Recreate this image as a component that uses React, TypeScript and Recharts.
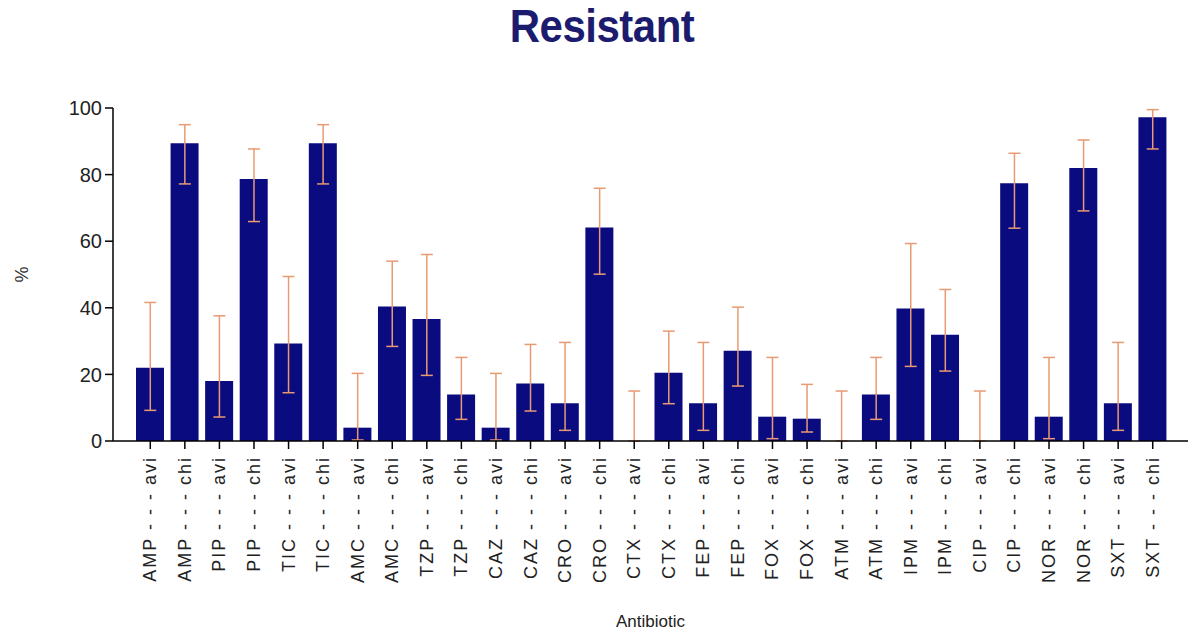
import { ComposedChart, Bar, Scatter, XAxis, YAxis, ErrorBar } from "recharts"

const drugs = [
    "AMP", "AMP", "PIP", "PIP", "TIC", "TIC", "AMC", "AMC", "TZP", "TZP",
    "CAZ", "CAZ", "CRO", "CRO", "CTX", "CTX", "FEP", "FEP", "FOX", "FOX",
    "ATM", "ATM", "IPM", "IPM", "CIP", "CIP", "NOR", "NOR", "SXT", "SXT",
]
const groups = [
    "avi", "chi", "avi", "chi", "avi", "chi", "avi", "chi", "avi", "chi",
    "avi", "chi", "avi", "chi", "avi", "chi", "avi", "chi", "avi", "chi",
    "avi", "chi", "avi", "chi", "avi", "chi", "avi", "chi", "avi", "chi",
]

// % resistant
const resistant = [
    22, 89.4, 18, 78.7, 29.3, 89.4, 4, 40.4, 36.6, 14,
    4, 17.3, 11.3, 64.1, 0, 20.5, 11.3, 27.1, 7.3, 6.7,
    0, 14, 39.8, 31.9, 0, 77.4, 7.3, 82, 11.3, 97.2,
]
// 95% CI bounds
const ciLow = [
    9.2, 77.2, 7.2, 65.9, 14.5, 77.2, 0.3, 28.4, 19.7, 6.5,
    0.3, 9, 3.2, 50.1, 0, 11.2, 3.2, 16.5, 0.7, 2.7,
    0, 6.5, 22.4, 21, 0, 63.9, 0.7, 69.1, 3.2, 87.7,
]
const ciHigh = [
    41.6, 95, 37.6, 87.7, 49.4, 95, 20.3, 54, 56, 25.1,
    20.3, 29, 29.6, 75.9, 15, 33, 29.6, 40.2, 25.1, 17,
    15, 25.1, 59.3, 45.5, 15, 86.4, 25.1, 90.4, 29.6, 99.5,
]

const yTicks = [0, 20, 40, 60, 80, 100]

const data = drugs.map((d, i) => ({
    name: `${d} - - - ${groups[i]}`,
    value: resistant[i],
    err: [resistant[i] - ciLow[i], ciHigh[i] - resistant[i]],
}))

const FONT = "'Liberation Sans', Arial, sans-serif"

function RotatedTick({ x, y, payload }: any) {
    return (
        <text
            transform={`translate(${x + 6},${y + 5}) rotate(-90)`}
            textAnchor="end"
            fontSize={18}
            letterSpacing={2}
            fill="#222"
            fontFamily={FONT}
        >
            {payload.value}
        </text>
    )
}

// scatter only carries the error bars, no marker
const NoDot = () => null

export default function App() {
    return (
        <div style={{ position: "absolute", left: 0, top: 0, width: 1192, height: 637, background: "#fff" }}>
            <div
                style={{
                    position: "absolute",
                    left: 0,
                    width: 1204,
                    top: 2,
                    textAlign: "center",
                    fontFamily: FONT,
                    fontWeight: "bold",
                    fontSize: 42,
                    letterSpacing: -0.5,
                    color: "#1c1c6e",
                    transform: "scaleY(1.12)",
                }}
            >
                Resistant
            </div>
            <ComposedChart
                width={1192}
                height={637}
                data={data}
                margin={{ top: 108, right: 4, left: 0, bottom: 0 }}
            >
                <XAxis
                    dataKey="name"
                    interval={0}
                    height={196}
                    padding={{ left: 20, right: 18 }}
                    tick={<RotatedTick />}
                    tickSize={8}
                    axisLine={{ stroke: "#000", strokeWidth: 1.5 }}
                    tickLine={{ stroke: "#000", strokeWidth: 1.5 }}
                    label={{
                        value: "Antibiotic",
                        position: "insideBottom",
                        offset: 10,
                        fontSize: 17,
                        fill: "#222",
                        fontFamily: FONT,
                    }}
                />
                <YAxis
                    width={113}
                    domain={[0, 100]}
                    ticks={yTicks}
                    tickSize={8}
                    tickMargin={3}
                    tick={{ fontSize: 20, fill: "#222", fontFamily: FONT }}
                    axisLine={{ stroke: "#000", strokeWidth: 1.5 }}
                    tickLine={{ stroke: "#000", strokeWidth: 1.5 }}
                    label={{
                        value: "%",
                        angle: -90,
                        position: "center",
                        dx: -35,
                        fontSize: 18,
                        fill: "#333",
                        fontFamily: FONT,
                    }}
                />
                <Bar dataKey="value" fill="#0b0b80" barSize={28} isAnimationActive={false} />
                <Scatter dataKey="value" shape={<NoDot />} isAnimationActive={false}>
                    <ErrorBar dataKey="err" direction="y" width={6} stroke="#e89a72" strokeWidth={1.5} />
                </Scatter>
            </ComposedChart>
        </div>
    )
}
